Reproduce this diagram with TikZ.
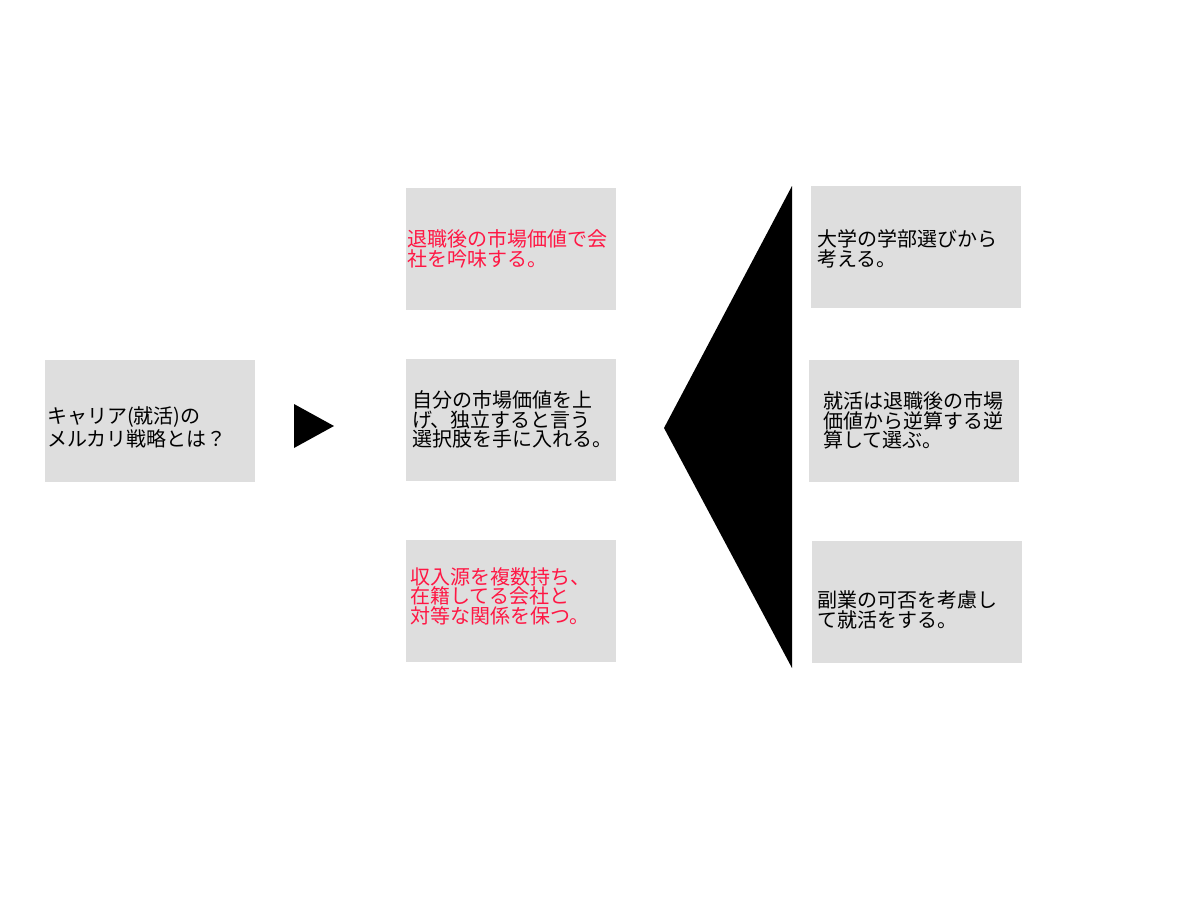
\documentclass[tikz,border=0pt]{standalone}
\usepackage{fontspec}
\setmainfont{Noto Sans CJK JP}
\definecolor{boxgray}{RGB}{222,222,222}
\definecolor{hotred}{RGB}{255,23,68}

\begin{document}
\begin{tikzpicture}[x=0.5pt, y=-0.5pt,
  every node/.style = {font=\fontsize{10pt}{9.8pt}\selectfont},
  cell/.style = {fill=boxgray, align=left, inner ysep=0pt,
    minimum height=61pt, inner xsep=#1, text width=105pt-2*#1},
  nudge/.style = {execute at end node={\endgraf\vspace*{#1}}},
  pointer/.style = {fill=black}]
  \useasboundingbox (0,0) rectangle (1200,900);

  % question on the left
  \node[cell=1pt, nudge=-6pt] (question) at (150,421) {キャリア(就活)の\\メルカリ戦略とは？};
  \fill[pointer] (294,404) -- (294,448) -- (334,426) -- cycle;

  % middle column
  \node[cell=0.5pt, text=hotred] (resign) at (511,249) {退職後の市場価値で会\\社を吟味する。};
  \node[cell=3pt] (value) at (511,419.5) {自分の市場価値を上\\げ、独立すると言う\\選択肢を手に入れる。};
  \node[cell=2pt, text=hotred, nudge=5pt] (income) at (511,601) {収入源を複数持ち、\\在籍してる会社と\\対等な関係を保つ。};

  \fill[pointer] (664,428) -- (792,186) -- (792,668) -- cycle;

  % right column
  \node[cell=3pt, nudge=-2pt] (faculty) at (916,247) {大学の学部選びから\\考える。};
  \node[cell=7pt] (backcalc) at (914,420.5) {就活は退職後の市場\\価値から逆算する逆\\算して選ぶ。};
  \node[cell=3pt, nudge=-8pt] (sidejob) at (916.5,602) {副業の可否を考慮し\\て就活をする。};
\end{tikzpicture}
\end{document}
